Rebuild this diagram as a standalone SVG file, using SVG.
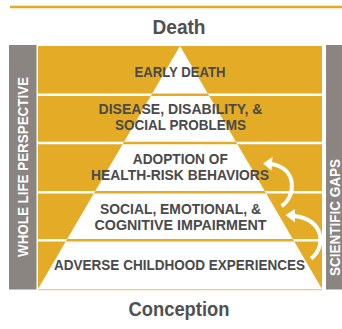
<svg xmlns="http://www.w3.org/2000/svg" width="342" height="329" viewBox="0 0 342 329">
<defs>
<clipPath id="tri"><polygon points="180,46 322,289 38,289"/></clipPath>
<style>
.lbl{font-family:"Liberation Sans",Arial,sans-serif;font-weight:bold;fill:#4a4a4a;text-anchor:middle;font-size:15px}
.big{font-family:"Liberation Sans",Arial,sans-serif;font-weight:bold;fill:#505050;text-anchor:middle;font-size:21px}
.side{font-family:"Liberation Sans",Arial,sans-serif;font-weight:bold;fill:#ffffff;text-anchor:middle;font-size:14px}
.sep{stroke:#ffffff;stroke-width:2.6}
.sepg{stroke:#e3ab26;stroke-width:2.6}
.arrow{fill:none;stroke:#ffffff;stroke-width:4}
</style>
</defs>
<rect width="342" height="329" fill="#ffffff"/>
<line x1="10" y1="7" x2="342" y2="7" stroke="#e3ab26" stroke-width="2.4"/>
<g id="bars">
<rect x="9" y="45" width="27.5" height="244.5" fill="#8a8581"/>
<rect x="326" y="45" width="16" height="244.5" fill="#8a8581"/>
<text class="side" transform="translate(28.3,167) rotate(-90)" textLength="180" lengthAdjust="spacingAndGlyphs">WHOLE LIFE PERSPECTIVE</text>
<text class="side" transform="translate(339.5,217.5) rotate(-90)" textLength="117" lengthAdjust="spacingAndGlyphs">SCIENTIFIC GAPS</text>
</g>
<g id="pyramid">
<rect x="38" y="46" width="284" height="243" fill="#e3ab26"/>
<polygon points="180,46 322,289 38,289" fill="#ffffff"/>
<line class="sep" x1="38" y1="94.7" x2="322" y2="94.7"/>
<line class="sep" x1="38" y1="143" x2="322" y2="143"/>
<line class="sep" x1="38" y1="192.3" x2="322" y2="192.3"/>
<line class="sep" x1="38" y1="240.3" x2="322" y2="240.3"/>
<g clip-path="url(#tri)">
<line class="sepg" x1="38" y1="94.7" x2="322" y2="94.7"/>
<line class="sepg" x1="38" y1="143" x2="322" y2="143"/>
<line class="sepg" x1="38" y1="192.3" x2="322" y2="192.3"/>
<line class="sepg" x1="38" y1="240.3" x2="322" y2="240.3"/>
</g>
<line x1="38" y1="289.6" x2="322" y2="289.6" stroke="#eecb78" stroke-width="1.4"/>
</g>
<g id="death"><text class="big" x="179" y="34.3" textLength="53" lengthAdjust="spacingAndGlyphs">Death</text></g>
<g id="early-death"><text class="lbl" x="180" y="76.7" textLength="91" lengthAdjust="spacingAndGlyphs">EARLY DEATH</text></g>
<g id="disease">
<text class="lbl" x="180.5" y="114.2" textLength="164" lengthAdjust="spacingAndGlyphs">DISEASE, DISABILITY, &amp;</text>
<text class="lbl" x="180.5" y="130.2" textLength="131" lengthAdjust="spacingAndGlyphs">SOCIAL PROBLEMS</text>
</g>
<g id="adoption">
<text class="lbl" x="180.3" y="164.3" textLength="95" lengthAdjust="spacingAndGlyphs">ADOPTION OF</text>
<text class="lbl" x="180" y="180.2" textLength="178" lengthAdjust="spacingAndGlyphs">HEALTH-RISK BEHAVIORS</text>
</g>
<g id="social">
<text class="lbl" x="180.5" y="214.2" textLength="161" lengthAdjust="spacingAndGlyphs">SOCIAL, EMOTIONAL, &amp;</text>
<text class="lbl" x="180.5" y="229.9" textLength="172" lengthAdjust="spacingAndGlyphs">COGNITIVE IMPAIRMENT</text>
</g>
<g id="ace"><text class="lbl" x="179.5" y="270.2" textLength="251" lengthAdjust="spacingAndGlyphs">ADVERSE CHILDHOOD EXPERIENCES</text></g>
<g id="conception"><text class="big" x="179" y="316.3" textLength="101" lengthAdjust="spacingAndGlyphs">Conception</text></g>
<g id="connectors">
<path class="arrow" d="M281.5,206 C296,197 298,168 271,164"/>
<polygon points="263,163.5 272.5,157 271.5,170.5" fill="#ffffff"/>
<path class="arrow" d="M311,258.5 C326,248 325,219 294,216"/>
<polygon points="285.5,215 295,209 295,222.5" fill="#ffffff"/>
</g>
</svg>
